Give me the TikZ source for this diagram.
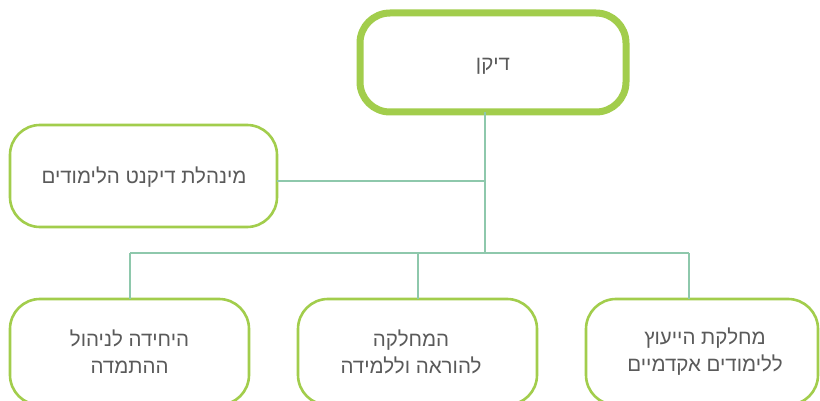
\documentclass[tikz,border=0pt]{standalone}
\usepackage{fontspec}
\newfontfamily\hebfont[Script=Hebrew]{Liberation Sans}
\TeXXeTstate=1
\definecolor{boxgreen}{HTML}{A2CD4C}
\definecolor{conncol}{HTML}{8EC8AC}
\definecolor{txtgray}{HTML}{5A5A5A}
\tikzset{
  box/.style={draw=boxgreen, line width=2.6pt, rounded corners=30pt, fill=white,
    inner sep=0pt, outer sep=0pt, rectangle},
  topbox/.style={box, line width=7pt, rounded corners=30pt},
  conn/.style={draw=conncol, line width=2.4pt},
  lbl/.style={text=txtgray, font=\hebfont\fontsize{20.5}{27}\selectfont, align=center, inner sep=0pt}
}
\begin{document}
\begin{tikzpicture}[x=1pt,y=-1pt]
\useasboundingbox (0,0) rectangle (820,401);
\clip (0,0) rectangle (820,401);
% junction coordinates
\coordinate (j1) at (485,181);
\coordinate (busL) at (130,253);
\coordinate (busM) at (418,253);
\coordinate (busR) at (689,253);
% boxes
\node[topbox, minimum width=266pt, minimum height=99pt] (dean) at (493,62.5) {};
\node[box, minimum width=267pt, minimum height=102pt] (mgr) at (143.5,176) {};
\node[box, minimum width=239pt, minimum height=106pt] (bl) at (129.5,352) {};
\node[box, minimum width=239pt, minimum height=106pt] (mid) at (417.5,352) {};
\node[box, minimum width=232pt, minimum height=106pt] (rt) at (702,352) {};
% connectors
\draw[conn] (dean.south -| j1) -- (busL -| j1);
\draw[conn] (j1 -| mgr.east) -- (j1);
\draw[conn] (busL) -- (busR);
\draw[conn] (busL) -- (busL |- bl.north);
\draw[conn] (busM) -- (busM |- mid.north);
\draw[conn] (busR) -- (busR |- rt.north);
% labels
\node[lbl] (tdean) at (493,66) {\beginR דיקן\endR};
\node[lbl] (tmgr) at (144,177) {\beginR מינהלת דיקנט הלימודים\endR};
\node[lbl] (tbl) at (129.5,352) {\beginR היחידה לניהול\endR\\\beginR ההתמדה\endR};
\node[lbl] (tmid) at (411,352) {\beginR המחלקה\endR\\\beginR להוראה וללמידה\endR};
\node[lbl] (trt) at (705,352) {\beginR מחלקת הייעוץ\endR\\\beginR ללימודים אקדמיים\endR};
\end{tikzpicture}
\end{document}
